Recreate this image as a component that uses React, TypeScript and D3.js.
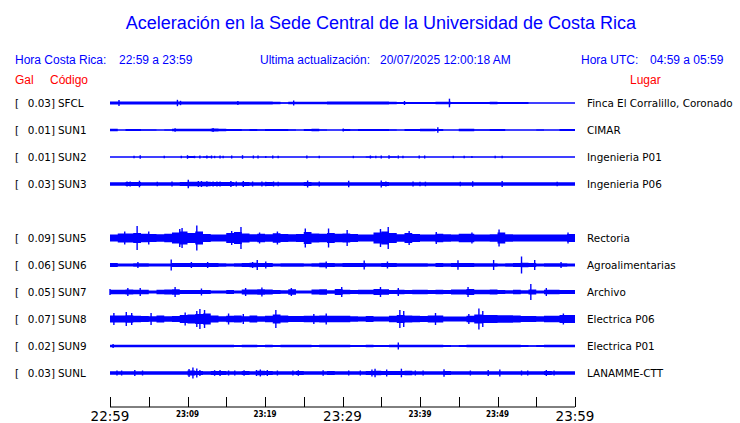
import React from "react";
import * as d3 from "d3";

// ---------- data ----------
const slots = ["SFCL", "SUN1", "SUN2", "SUN3", "", "SUN5", "SUN6", "SUN7", "SUN8", "SUN9", "SUNL"];
const stations = ["SFCL", "SUN1", "SUN2", "SUN3", "SUN5", "SUN6", "SUN7", "SUN8", "SUN9", "SUNL"];
const gals = ["0.03", "0.01", "0.01", "0.03", "0.09", "0.06", "0.05", "0.07", "0.02", "0.03"];
const places = [
  "Finca El Corralillo, Coronado", "CIMAR", "Ingenieria P01", "Ingenieria P06", "Rectoria",
  "Agroalimentarias", "Archivo", "Electrica P06", "Electrica P01", "LANAMME-CTT",
];
const tickMinutes = [0, 10, 20, 30, 40, 50, 60];
const tickLabels = ["22:59", "23:09", "23:19", "23:29", "23:39", "23:49", "23:59"];
const majorTicks = [true, false, false, true, false, false, true];

// per-minute envelope (half amplitude)
const envSFCL = [1.5,1.5,1.4,1.5,1.5,1.5,1.4,1.5,1.6,1.6, 1.5,1.5,1.5,1.4,1.5,1.4,1.5,1.5,1.5,1.5, 1.5,1.3,0.8,1.2,1.3,1.2,1.3,1.2,1.5,1.5, 1.5,1.5,1.5,1.5,1.5,1.4,1.2,1.0,1.0,1.1, 1.0,0.9,1.2,1.3,1.0,1.0,0.9,1.1,1.1,1.2, 1.0,1.1,1.1,0.9,0.5,0.6,0.5,0.6,0.5,0.5];
const envSUN1 = [1.3,0.6,0.9,0.9,0.8,0.7,0.6,0.8,1.2,1.3, 1.3,1.3,1.3,1.4,1.2,1.1,1.0,0.8,1.0,0.8, 0.9,1.0,1.0,0.7,0.5,1.0,1.2,0.8,0.5,0.5, 0.9,0.8,1.0,1.1,1.0,1.0,0.8,0.5,0.9,1.0, 1.3,1.3,1.1,0.6,0.5,1.3,1.3,0.8,0.8,1.0, 0.9,0.6,0.5,0.5,0.5,0.8,0.5,0.6,0.9,0.9];
const envSUN2 = [0.5,0.5,0.5,0.5,0.5,0.5,0.5,0.5,0.5,0.5, 0.9,0.5,0.7,0.5,0.5,0.5,0.5,0.5,0.5,0.5, 0.5,0.5,0.5,0.5,0.5,0.5,0.5,0.5,0.5,0.5, 0.5,0.5,0.5,0.7,0.5,0.5,0.8,0.5,0.5,0.5, 0.5,0.5,0.5,0.5,0.5,0.5,0.5,0.5,0.5,0.5, 0.5,0.5,0.5,0.5,0.5,0.5,0.5,0.5,0.5,0.5];
const envSUN3 = [1.7,1.7,2.0,2.0,1.7,1.7,1.8,1.7,1.8,2.0, 2.3,2.3,2.2,2.0,2.0,2.0,1.8,1.9,1.8,1.8, 1.9,1.8,1.7,1.7,1.7,1.9,1.7,1.8,1.7,1.7, 1.8,1.7,1.7,1.7,1.7,1.9,1.7,1.7,1.7,1.8, 1.8,1.7,1.7,1.7,1.7,1.7,1.8,1.7,1.7,1.7, 1.8,1.7,1.7,1.7,1.7,1.7,1.7,1.7,1.7,1.7];
const envSUN5 = [3.5,4.5,4.5,5.0,4.3,4.0,3.8,4.3,5.5,6.5, 5.0,6.5,4.0,3.5,3.6,5.0,6.0,4.5,3.8,4.3, 3.8,4.8,4.0,3.8,4.0,6.0,4.5,4.2,5.0,4.2, 4.5,4.0,3.5,3.5,5.5,6.5,5.0,3.8,5.0,4.0, 3.6,3.6,4.3,3.8,3.5,4.3,4.2,3.6,3.6,3.8, 5.5,3.8,3.5,3.5,3.5,3.5,3.5,3.6,3.6,4.0];
const envSUN6 = [2.0,1.5,1.5,1.8,1.7,1.5,1.5,1.5,2.0,2.0, 2.1,2.0,2.0,1.9,1.7,1.5,1.7,2.0,2.3,2.1, 1.9,1.5,1.7,1.7,1.7,1.5,1.8,2.3,2.1,1.7, 1.9,1.9,2.1,1.8,1.7,2.1,1.9,1.7,1.7,1.7, 1.7,1.5,1.9,1.7,2.1,2.1,2.0,1.8,1.7,1.7, 1.5,1.8,2.1,2.3,1.9,1.5,1.7,1.7,1.8,1.5];
const envSUN7 = [2.2,2.2,2.6,2.2,2.2,1.5,2.2,2.4,2.7,2.0, 2.0,2.0,2.1,1.5,1.5,2.0,1.6,2.6,2.6,2.7, 2.6,2.0,1.8,2.7,1.6,1.6,2.6,2.7,1.8,3.0, 2.3,2.1,2.2,2.2,3.0,2.7,2.1,2.2,2.0,2.2, 2.2,2.0,2.3,2.0,2.6,2.4,3.0,2.2,2.2,2.4, 2.1,1.8,2.2,1.8,2.6,1.6,2.2,2.3,2.1,2.0];
const envSUN8 = [3.5,3.5,3.8,3.2,3.0,2.8,3.5,2.8,3.0,4.0, 4.5,5.0,5.5,3.5,2.8,3.2,3.5,2.8,3.5,2.8, 3.2,4.5,3.5,3.0,3.0,3.2,3.2,3.5,3.2,3.2, 3.2,2.8,2.6,3.0,2.6,2.6,3.2,4.0,3.5,3.2, 3.0,3.5,3.5,2.6,2.5,2.5,3.2,4.5,4.0,4.0, 3.8,3.8,3.5,3.0,3.0,2.8,3.2,3.2,4.0,4.0];
const envSUN9 = [1.3,1.3,1.3,1.3,1.3,1.2,1.3,1.2,1.3,1.3, 1.3,1.3,1.3,1.3,1.3,1.2,1.1,1.2,1.2,1.1, 1.2,1.1,1.3,1.2,1.2,1.3,1.1,1.3,1.3,1.3, 1.2,1.1,1.1,1.2,1.1,1.1,1.2,1.3,1.3,1.3, 1.3,1.2,1.2,1.1,0.7,1.0,1.2,1.3,1.3,1.3, 1.3,1.3,1.3,1.0,0.8,1.1,1.3,1.3,1.3,1.3];
const envSUNL = [1.7,1.7,1.7,1.8,1.7,1.7,1.7,1.7,1.7,1.8, 2.6,2.0,1.7,1.9,2.0,1.8,1.8,1.9,1.7,2.2, 2.0,1.8,1.7,1.8,1.9,1.7,1.7,1.8,2.0,1.7, 1.7,1.8,1.7,2.0,2.2,2.0,2.0,2.1,2.2,1.8, 1.8,1.7,1.7,1.9,1.7,1.7,1.7,1.7,1.8,1.7, 1.8,1.7,1.7,1.7,1.8,1.7,2.0,1.8,1.7,1.7];

// spikes: [minute, half amplitude]
const spkSFCL = [[1.16,3],[8.7,3.2],[9.1,2.2],[16.5,2],[23.7,2.5],[38.0,2],[43.8,4.3]];
const spkSUN1 = [[8.4,1.8],[13.3,2.0],[30.1,1.5],[42.3,2.8]];
const spkSUN2 = [[3.1,1.2],[3.9,1.8],[7.0,1.2],[9.2,1.2],[10.0,1.8],[10.9,1.2],[11.6,1.5],[12.5,1.5],[13.1,1.5],[13.5,1.2],[14.2,1.5],[14.6,1.2],[15.7,1.5],[17.1,1.8],[18.5,1.5],[19.1,1.5],[20.1,1.0],[21.0,1.5],[21.7,1.2],[25.4,1.5],[27.0,1.2],[31.4,1.2],[33.6,1.5],[34.3,1.2],[35.0,1.5],[36.0,1.8],[37.2,1.5],[37.8,1.2],[39.9,1.5],[40.6,1.5],[44.3,1.2],[45.7,1.2],[46.7,1.0],[49.7,1.2],[50.6,1.2]];
const spkSUN3 = [[2.2,2.5],[2.6,2.5],[3.8,3.3],[6.1,2.3],[8.0,2.5],[10.1,4.2],[11.4,3.0],[11.8,3.0],[12.5,2.8],[13.3,2.5],[13.8,2.5],[14.2,2.5],[15.6,3.0],[16.3,2.5],[17.2,3.0],[18.4,2.5],[19.6,2.5],[20.1,2.3],[21.1,2.5],[21.7,2.3],[25.5,3.5],[27.0,2.5],[30.8,3.3],[35.0,3.6],[35.6,2.5],[39.1,2.5],[40.0,2.3],[40.7,2.3],[45.2,2.3],[46.8,2.8],[50.6,3.0],[57.7,2.3]];
const spkSUN5 = [[1.9,6.5],[3.5,12],[5.0,6.5],[9.0,9],[9.3,10],[11.2,12.5],[15.7,7],[16.9,11],[19.3,5.5],[21.6,6.5],[25.2,9.5],[28.2,9.5],[30.6,8],[34.9,9],[35.9,11],[38.6,7],[42.1,6],[46.7,5.5],[50.2,8.5],[59.1,5.5]];
const spkSUN6 = [[3.6,3],[7.9,5.5],[10.5,3],[12.6,3],[18.4,3],[19.0,5],[20.1,3.5],[27.9,3.5],[32.8,4.5],[35.8,3.5],[44.9,4.8],[49.5,5],[53.1,8.5],[54.8,5],[58.2,3]];
const spkSUN7 = [[0,3],[2.3,4],[3.9,4],[8.4,5],[11.8,3.5],[17.5,4],[19.6,4.5],[23.4,4],[29.9,5],[34.9,5],[37.2,4],[46.2,5],[54.3,8],[56.3,4]];
const spkSUN8 = [[0.5,6],[2.1,7],[2.8,6],[5.3,6],[9.7,6.5],[11.2,8],[11.6,10],[12.2,9],[15.3,5.5],[17.2,5],[21.4,9],[26.3,5],[27.9,5.5],[37.4,9],[37.9,8],[42.0,6],[46.3,5],[47.6,10.5],[48.1,8],[58.5,5.5]];
const spkSUN9 = [[0.4,2],[37.2,3.5]];
const spkSUNL = [[0.9,2.5],[1.5,2.5],[3.2,3],[4.2,2.5],[10.2,4],[10.7,5.5],[11.2,4.5],[11.6,3],[13.5,2.8],[14.2,3],[15.3,2.5],[16.1,2.5],[17.3,2.8],[18.9,3],[19.4,3.5],[20.3,3],[21.6,2.5],[23.6,2.5],[24.3,2.8],[27.5,2.8],[30.8,2.5],[32.3,2.5],[33.8,3.5],[34.2,4.3],[35.7,3.5],[37.6,4.3],[39.4,2.5],[40.4,2.5],[43.1,3.7],[46.5,2.5],[48.8,3],[50.3,3.5],[53.1,2.5],[53.9,2.5],[56.3,3],[57.3,2.5]];

const envelopes = [envSFCL, envSUN1, envSUN2, envSUN3, envSUN5, envSUN6, envSUN7, envSUN8, envSUN9, envSUNL];
const spikes = [spkSFCL, spkSUN1, spkSUN2, spkSUN3, spkSUN5, spkSUN6, spkSUN7, spkSUN8, spkSUN9, spkSUNL];

// ---------- chart ----------
const W = 740, H = 423;
const BLUE = "#0000ff";
const SANS = "'Liberation Sans', Arial, sans-serif";
const DJ = "'DejaVu Sans', sans-serif";

export default function App() {
  const x = d3.scaleLinear().domain([0, 60]).range([110, 575]);
  const row = d3.scalePoint<string>().domain(slots).range([103, 373]);
  const amp = d3.scaleLinear().domain([0, 13.5]).range([0, 13.5]);

  return (
    <svg width={W} height={H} style={{ position: "absolute", left: 0, top: 0, background: "#fff" }}>
      <text x={381} y={29} textAnchor="middle" fontFamily={SANS} fontSize={18} fill={BLUE}>
        Aceleración en la Sede Central de la Universidad de Costa Rica
      </text>
      <g fontFamily={SANS} fontSize={12} fill={BLUE}>
        <text x={15} y={64}>Hora Costa Rica:</text>
        <text x={119} y={64}>22:59 a 23:59</text>
        <text x={260} y={64}>Ultima actualización:</text>
        <text x={380} y={64}>20/07/2025 12:00:18 AM</text>
        <text x={581} y={64}>Hora UTC:</text>
        <text x={650} y={64}>04:59 a 05:59</text>
      </g>
      <g fontFamily={SANS} fontSize={12} fill="#ff0000">
        <text x={15} y={84}>Gal</text>
        <text x={50} y={84}>Código</text>
        <text x={630} y={84}>Lugar</text>
      </g>

      {stations.map((s, i) => {
        const y0 = row(s) as number;
        const vals = envelopes[i];
        const pts = vals.map((v, m) => [m, v]).concat([[60, vals[vals.length - 1]]]);
        const area = d3.area<number[]>()
          .x((d) => x(d[0]))
          .y0((d) => y0 + amp(d[1]))
          .y1((d) => y0 - amp(d[1]))
          .curve(d3.curveStepAfter);
        return (
          <g key={s}>
            <g fontFamily={DJ} fontSize={10.4} fill="#000">
              <text x={15} y={y0} dy="0.35em">[</text>
              <text x={55} y={y0} dy="0.35em" textAnchor="end">{gals[i] + "]"}</text>
              <text x={58} y={y0} dy="0.35em">{s}</text>
              <text x={587} y={y0} dy="0.35em">{places[i]}</text>
            </g>
            <line x1={x(0)} x2={x(60)} y1={y0} y2={y0} stroke={BLUE} strokeWidth={1} />
            <path d={area(pts) || ""} fill={BLUE} />
            {spikes[i].map((p, k) => (
              <line key={k} x1={x(p[0])} x2={x(p[0])} y1={y0 - amp(p[1])} y2={y0 + amp(p[1])}
                stroke={BLUE} strokeWidth={1.4} />
            ))}
          </g>
        );
      })}

      <g>
        <line x1={x(0)} x2={x(60)} y1={407} y2={407} stroke="#000" strokeWidth={1} />
        {d3.range(0, 61, 5).map((m) => (
          <line key={m} x1={Math.round(x(m)) + 0.5} x2={Math.round(x(m)) + 0.5} y1={397} y2={407} stroke="#000" strokeWidth={1} />
        ))}
        {tickMinutes.map((m, i) => (
          majorTicks[i] ? (
            <text key={m} x={x(m)} y={421} textAnchor="middle" fontFamily={DJ} fontSize={13.5} fill="#000">{tickLabels[i]}</text>
          ) : (
            <text key={m} x={x(m)} y={417} textAnchor="middle" fontFamily="'DejaVu Sans Condensed', 'DejaVu Sans', sans-serif" fontWeight="bold" fontSize={8} fill="#000">{tickLabels[i]}</text>
          )
        ))}
      </g>
    </svg>
  );
}
